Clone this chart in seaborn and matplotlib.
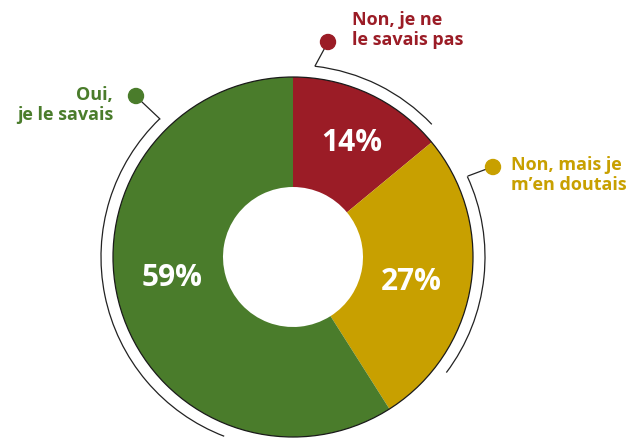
import matplotlib
matplotlib.use("Agg")
import matplotlib.pyplot as plt
import numpy as np
import seaborn as sns
from matplotlib.patches import Arc, Circle

labels = ["Non, je ne\nle savais pas", "Non, mais je\nm\u2019en doutais", "Oui,\nje le savais"]
shares = [14, 27, 59]
pct_labels = ["14%", "27%", "59%"]
colors = ["#9b1c26", "#c8a000", "#4a7c2b"]

sns.set_theme(style="white")
plt.rcParams["font.family"] = ["Open Sans", "DejaVu Sans"]

W, H = 639, 439
fig = plt.figure(figsize=(W / 100, H / 100), dpi=100)
ax = fig.add_axes([0, 0, 1, 1])

cx, cy = 293, H - 258
R, r_in = 180, 70

ax.pie(shares, startangle=90, counterclock=False, colors=colors,
       radius=R, center=(cx, cy), frame=True,
       wedgeprops=dict(width=R - r_in, linewidth=0))
ax.set_xlim(0, W)
ax.set_ylim(0, H)
ax.set_aspect("equal")
ax.axis("off")
ax.add_patch(Circle((cx, cy), R, fill=False, edgecolor="#1a1a1a", linewidth=0.9))

# percentage labels
pct_pos = [(352, 143), (411, 282), (172, 278)]
for (px, py), t in zip(pct_pos, pct_labels):
    ax.text(px, H - py, t, color="white", fontsize=21.5, fontweight="bold",
            ha="center", va="center")

# outer arcs (degrees, counterclockwise from +x)
arc_r = 192
arcs = [(43.7, 83.4), (-37, 24.8), (-111, -226)]
for a1, a2 in arcs:
    lo, hi = min(a1, a2), max(a1, a2)
    ax.add_patch(Arc((cx, cy), 2 * arc_r, 2 * arc_r, theta1=lo, theta2=hi,
                     color="#222222", linewidth=0.9))

# leaders and dots
leaders = [
    [(315, 67), (328, 43)],
    [(468, 177), (484, 171), (493, 168)],
    [(160, 120), (142, 103), (136, 97)],
]
for pts, c in zip(leaders, colors):
    xs = [p[0] for p in pts]
    ys = [H - p[1] for p in pts]
    ax.plot(xs, ys, color="#222222", linewidth=0.9)
    ax.add_patch(Circle((xs[-1], ys[-1]), 7.5, color=c, zorder=5))

# category labels
ax.text(352, H - 30, labels[0], color=colors[0], fontsize=13, fontweight="bold",
        ha="left", va="center", linespacing=1.2)
ax.text(511, H - 175, labels[1], color=colors[1], fontsize=13, fontweight="bold",
        ha="left", va="center", linespacing=1.2)
ax.text(113, H - 105, labels[2], color=colors[2], fontsize=13, fontweight="bold",
        ha="right", va="center", linespacing=1.2, multialignment="right")

fig.savefig("out.png", dpi=100)
